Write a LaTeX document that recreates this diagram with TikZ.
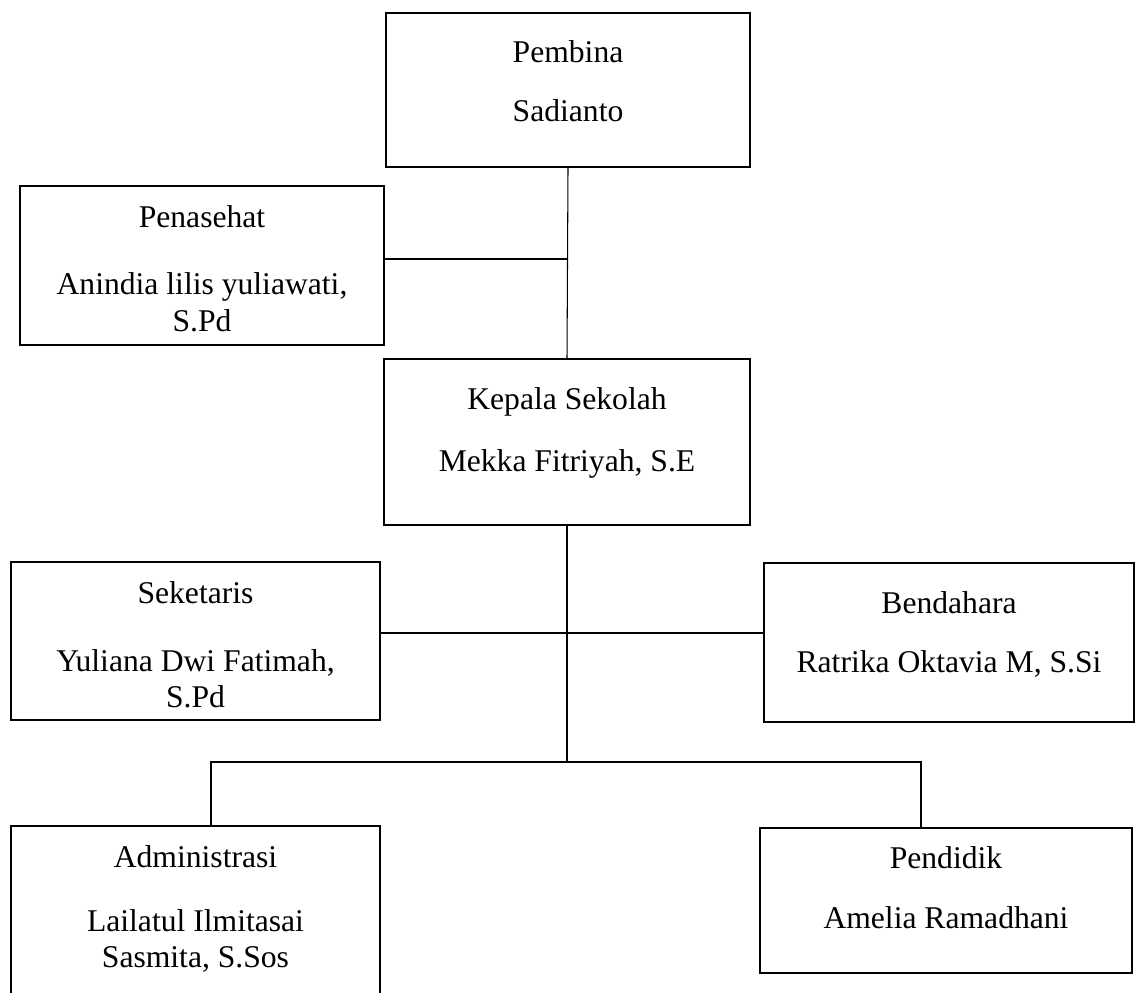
\documentclass[tikz,border=0pt]{standalone}
\usepackage{fontspec}
\setmainfont{Liberation Serif}
\usepackage{tikz}
\usetikzlibrary{positioning, calc}

\tikzset{
  kotak/.style={draw, line width=1.1pt, rectangle, inner sep=0pt},
  teks/.style={anchor=north, align=center, inner sep=0pt, font=\fontsize{18}{20.5}\selectfont},
  garis/.style={line width=0.6pt}
}

\begin{document}
\begin{tikzpicture}[x=0.02cm, y=-0.02cm]
    \useasboundingbox (0,0) rectangle (1141,992);

    % kotak jabatan
    \node[kotak, minimum width=7.28cm, minimum height=3.08cm] (pembina) at (568,90) {};
    \node[kotak, minimum width=7.28cm, minimum height=3.18cm] (penasehat) at (202,265.5) {};
    \node[kotak, minimum width=7.32cm, minimum height=3.32cm] (kepala) at (567,442) {};
    \node[kotak, minimum width=7.38cm, minimum height=3.16cm] (seketaris) at (195.5,641) {};
    \node[kotak, minimum width=7.40cm, minimum height=3.18cm] (bendahara) at (949,642.5) {};
    \node[kotak, minimum width=7.38cm, minimum height=3.68cm] (administrasi) at (195.5,918) {};
    \node[kotak, minimum width=7.44cm, minimum height=2.90cm] (pendidik) at (946,900.5) {};

    % isi kotak
    \node[teks] (pembinaTeks) at ([yshift=-0.56cm]pembina.north) {Pembina\\[13pt]Sadianto};
    \node[teks] (penasehatTeks) at ([yshift=-0.40cm]penasehat.north) {Penasehat\\[18pt]Anindia lilis yuliawati,\\S.Pd};
    \node[teks] (kepalaTeks) at ([yshift=-0.58cm]kepala.north) {Kepala Sekolah\\[15pt]Mekka Fitriyah, S.E};
    \node[teks] (seketarisTeks) at ([yshift=-0.40cm]seketaris.north) {Seketaris\\[18pt]Yuliana Dwi Fatimah,\\S.Pd};
    \node[teks] (bendaharaTeks) at ([yshift=-0.58cm]bendahara.north) {Bendahara\\[13pt]Ratrika Oktavia M, S.Si};
    \node[teks] (administrasiTeks) at ([yshift=-0.40cm]administrasi.north) {Administrasi\\[16pt]Lailatul Ilmitasai\\Sasmita, S.Sos};
    \node[teks] (pendidikTeks) at ([yshift=-0.38cm]pendidik.north) {Pendidik\\[14pt]Amelia Ramadhani};

    % titik cabang
    \coordinate (cabangA) at (568,259);
    \coordinate (cabangB) at (568,633);
    \coordinate (busKiri) at (211,762);
    \coordinate (busKanan) at (921,762);

    % garis hubung
    \draw[garis] (pembina.south) -- (kepala.north);
    \draw[garis] (penasehat.east |- cabangA) -- (cabangA);
    \draw[garis] (kepala.south) -- (kepala.south |- busKiri);
    \draw[garis] (seketaris.east |- cabangB) -- (bendahara.west |- cabangB);
    \draw[garis] (busKiri |- administrasi.north) -- (busKiri) -- (busKanan) -- (busKanan |- pendidik.north);
\end{tikzpicture}
\end{document}
